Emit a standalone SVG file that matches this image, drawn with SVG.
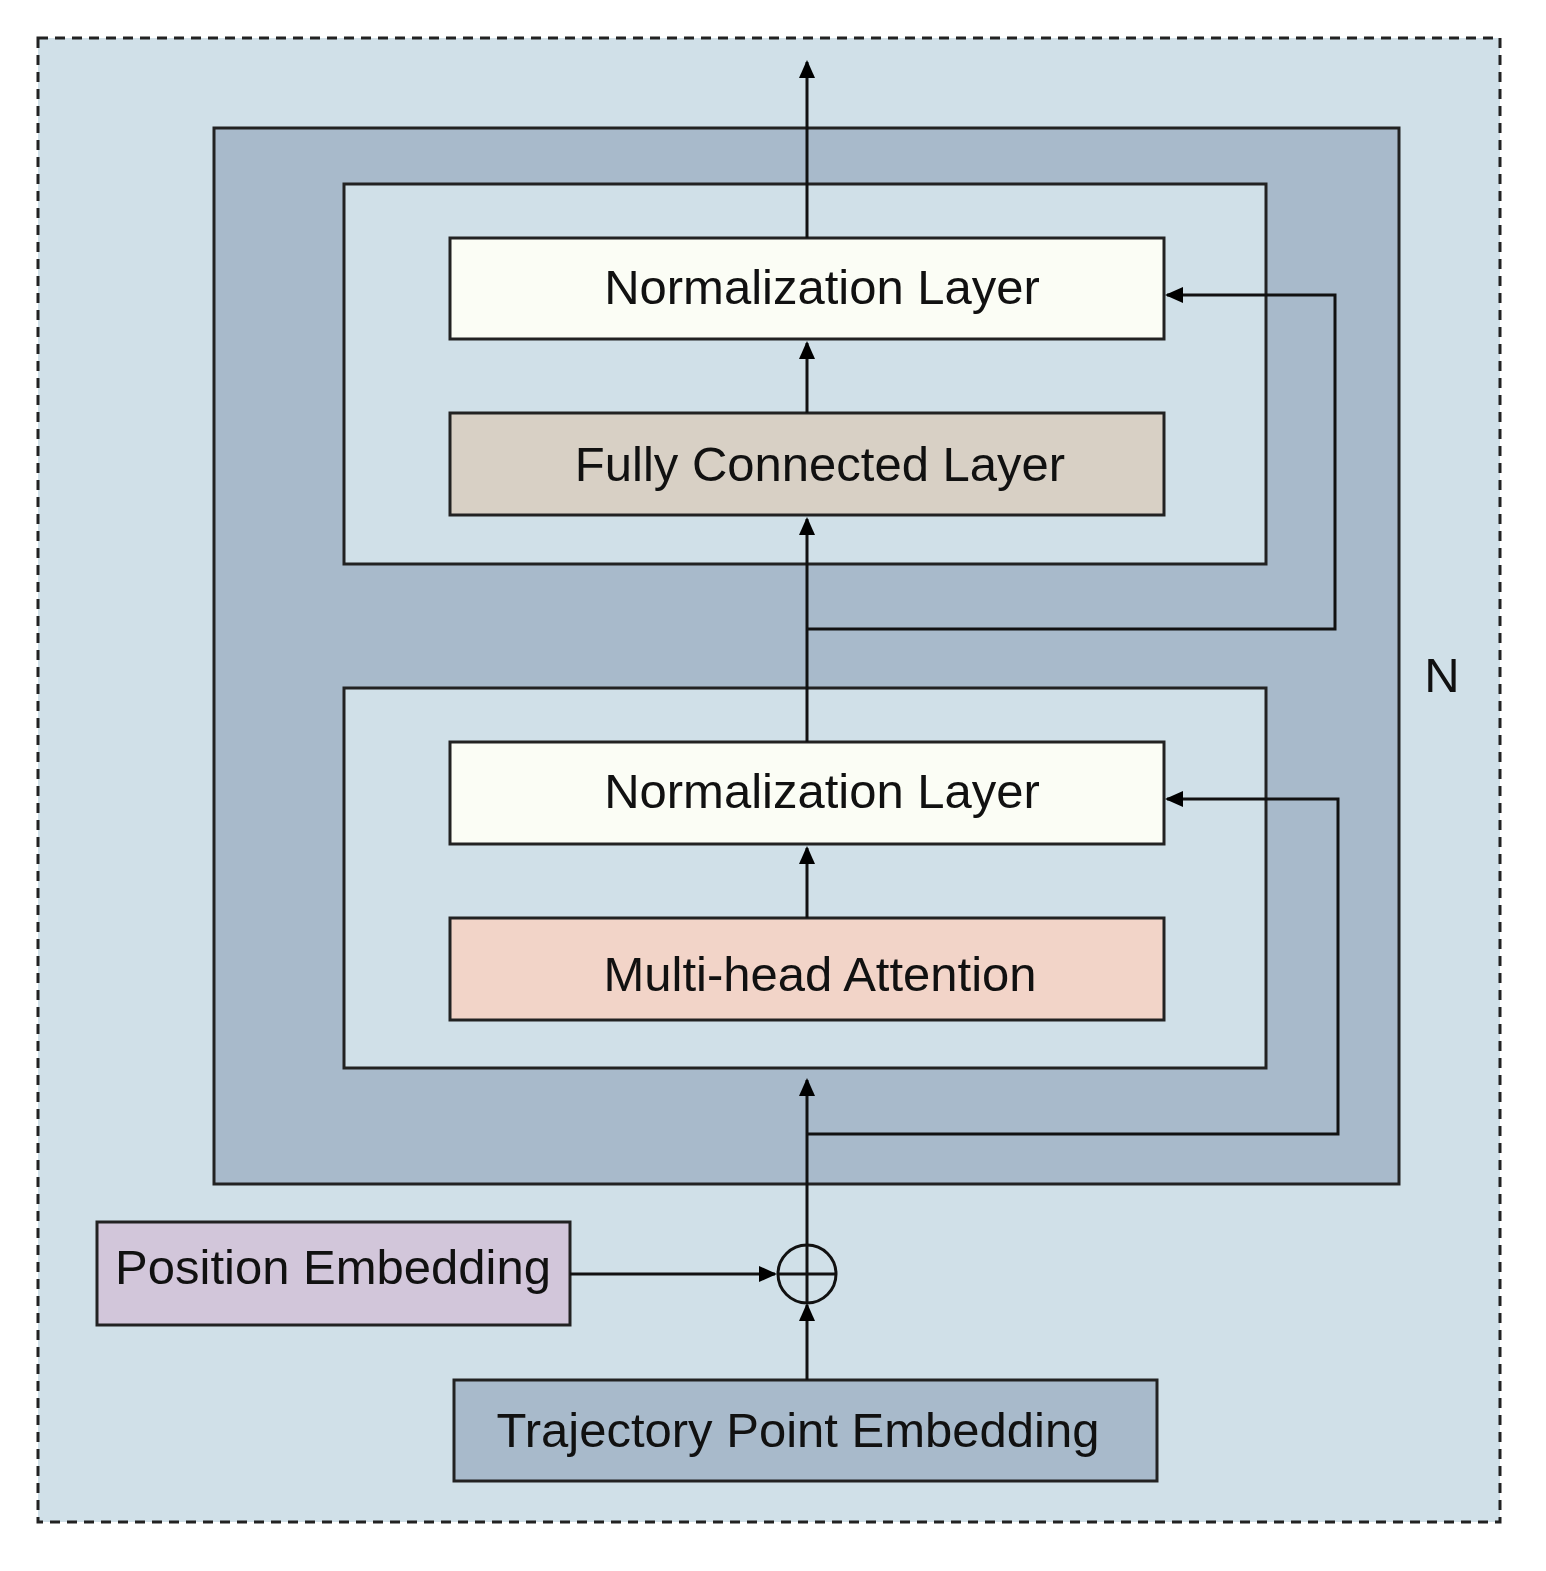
<svg xmlns="http://www.w3.org/2000/svg" width="1546" height="1571" viewBox="0 0 1546 1571">
<defs>
<marker id="a" markerWidth="18" markerHeight="16" refX="16" refY="8" orient="auto" markerUnits="userSpaceOnUse"><path d="M0,0 L18,8 L0,16 z" fill="#000"/></marker>
<style>
.b{stroke:#222;stroke-width:3}
.t{font-family:"Liberation Sans",Arial,sans-serif;font-size:49px;fill:#111;text-anchor:middle}
.c{fill:none;stroke:#111;stroke-width:3}
</style>
</defs>
<rect width="1546" height="1571" fill="#fff"/>
<rect id="outer" x="38" y="38" width="1462" height="1484" fill="#d0e0e8" stroke="#222" stroke-width="3" stroke-dasharray="10,7"/>
<g id="block"><rect x="214" y="128" width="1185" height="1056" fill="#a8bacb" class="b"/></g>
<g id="sub2"><rect x="344" y="184" width="922" height="380" fill="#d0e0e8" class="b"/></g>
<g id="sub1"><rect x="344" y="688" width="922" height="380" fill="#d0e0e8" class="b"/></g>
<g id="norm2"><rect x="450" y="238" width="714" height="101" fill="#fbfdf5" class="b"/><text class="t" x="822" y="304">Normalization Layer</text></g>
<g id="fc"><rect x="450" y="413" width="714" height="102" fill="#d8d0c5" class="b"/><text class="t" x="820" y="481">Fully Connected Layer</text></g>
<g id="norm1"><rect x="450" y="742" width="714" height="102" fill="#fbfdf5" class="b"/><text class="t" x="822" y="808">Normalization Layer</text></g>
<g id="mha"><rect x="450" y="918" width="714" height="102" fill="#f2d4c8" class="b"/><text class="t" x="820" y="991">Multi-head Attention</text></g>
<g id="pos"><rect x="97" y="1222" width="473" height="103" fill="#d2c6da" class="b"/><text class="t" x="333" y="1284">Position Embedding</text></g>
<g id="traj"><rect x="454" y="1380" width="703" height="101" fill="#a8bacb" class="b"/><text class="t" x="798" y="1447">Trajectory Point Embedding</text></g>
<g id="plus"><circle cx="807" cy="1274" r="29" fill="none" stroke="#111" stroke-width="3"/><path d="M778,1274 H836 M807,1245 V1303" stroke="#111" stroke-width="3"/></g>
<text class="t" x="1442" y="692">N</text>
<g id="connectors">
<path class="c" d="M807,1380 V1305" marker-end="url(#a)"/>
<path class="c" d="M570,1274 H775" marker-end="url(#a)"/>
<path class="c" d="M807,1245 V1080" marker-end="url(#a)"/>
<path class="c" d="M807,1134 H1338 V799 H1167" marker-end="url(#a)"/>
<path class="c" d="M807,918 V848" marker-end="url(#a)"/>
<path class="c" d="M807,742 V519" marker-end="url(#a)"/>
<path class="c" d="M807,629 H1335 V295 H1167" marker-end="url(#a)"/>
<path class="c" d="M807,413 V343" marker-end="url(#a)"/>
<path class="c" d="M807,238 V62" marker-end="url(#a)"/>
</g>
</svg>
